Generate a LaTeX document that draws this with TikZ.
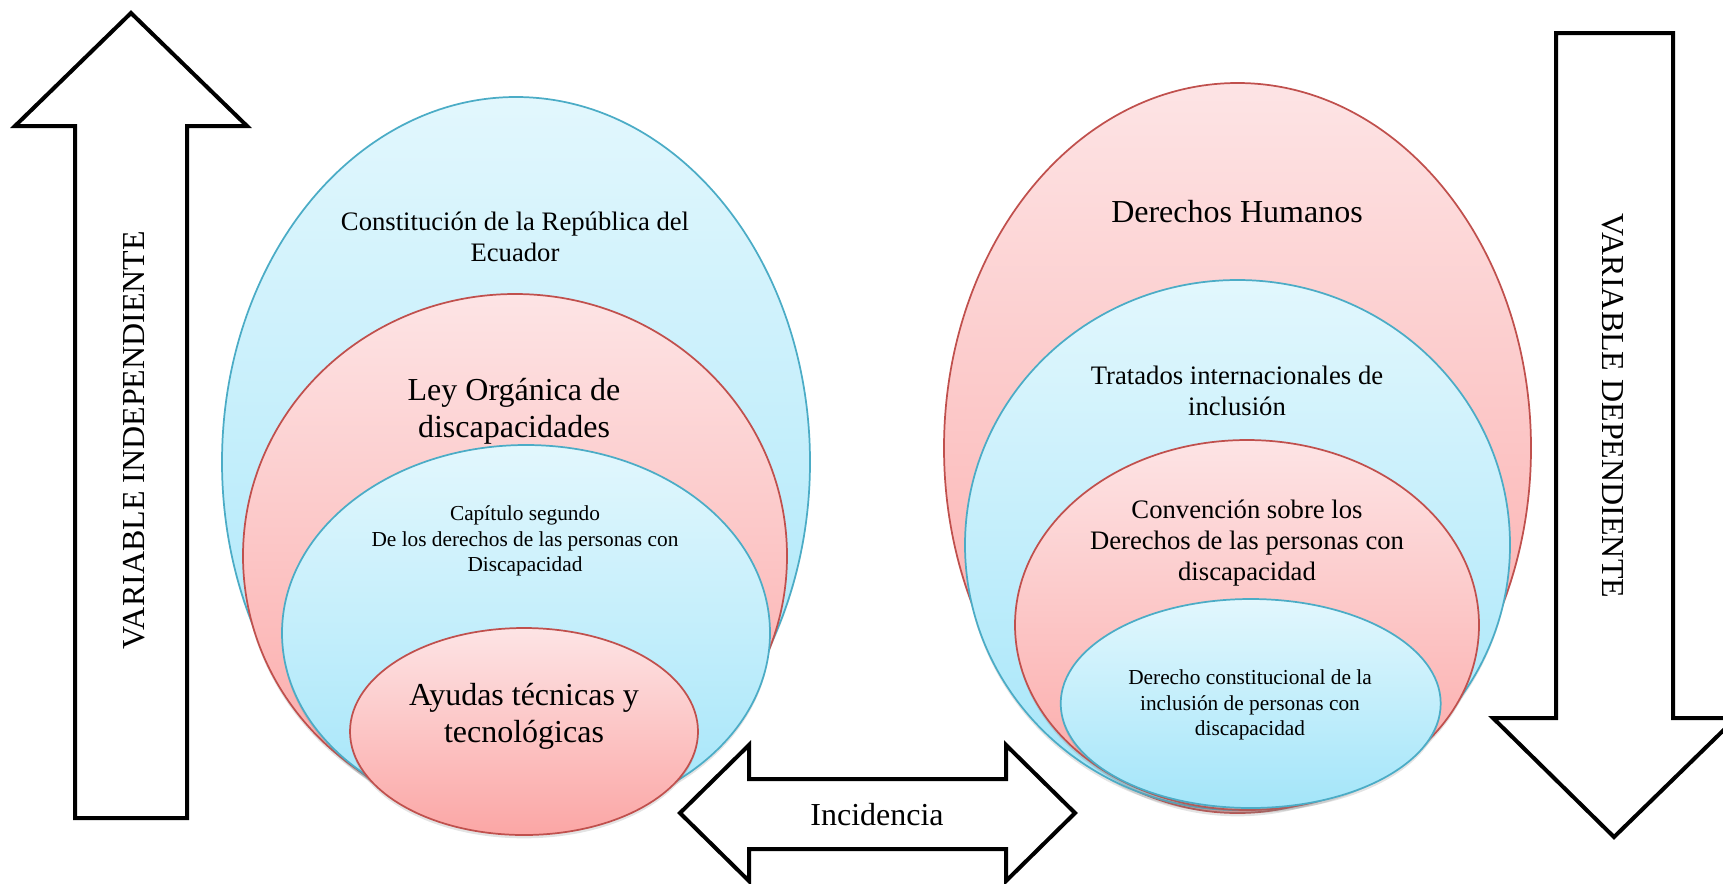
\documentclass[tikz,border=0pt]{standalone}
\usepackage{fontspec}
\setmainfont{Liberation Serif}
\usetikzlibrary{shadows}

\begin{document}
\begin{tikzpicture}[x=0.75pt,y=-0.75pt,
	bluebg/.style={draw=ovalblue, line width=1.3pt, top color=bluetop, bottom color=bluebot,
		drop shadow={opacity=0.22, shadow xshift=0pt, shadow yshift=-2.5pt}},
	pinkbg/.style={draw=ovalred, line width=1.3pt, top color=pinktop, bottom color=pinkbot,
		drop shadow={opacity=0.22, shadow xshift=0pt, shadow yshift=-2.5pt}},
	blockarrow/.style={draw=black, fill=white, line width=3pt, line join=miter},
	txtbig/.style={font=\fontsize{24}{28}\selectfont, align=center},
	txtmid/.style={font=\fontsize{20}{23.5}\selectfont, align=center},
	txtsmall/.style={font=\fontsize{16}{19}\selectfont, align=center}]
	\useasboundingbox (0,0) rectangle (1723,883);

	\definecolor{ovalblue}{RGB}{75,172,198}
	\definecolor{bluetop}{RGB}{226,247,253}
	\definecolor{bluebot}{RGB}{163,229,249}
	\definecolor{ovalred}{RGB}{192,80,77}
	\definecolor{pinktop}{RGB}{253,228,229}
	\definecolor{pinkbot}{RGB}{251,166,165}

%links
	%Ellipsen
	\draw[bluebg] (516,462) ellipse [x radius=294, y radius=365];
	\draw[pinkbg] (515,556) ellipse [x radius=272, y radius=262];
	\draw[bluebg] (526,633) ellipse [x radius=244, y radius=188];
	\draw[pinkbg] (524,731.5) ellipse [x radius=174, y radius=103.5];

	%Texte
	\node[txtmid] (constitucion) at (515,237) {Constitución de la República del\\Ecuador};
	\node[txtbig] (ley) at (514,411) {Ley Orgánica de\\discapacidades};
	\node[txtsmall] (capitulo) at (525,541) {Capítulo segundo\\De los derechos de las personas con\\Discapacidad};
	\node[txtbig] (ayudas) at (524,716) {Ayudas técnicas y\\tecnológicas};

%rechts
	%Ellipsen
	\draw[pinkbg] (1237.5,448) ellipse [x radius=293.5, y radius=365];
	\draw[bluebg] (1237.5,545) ellipse [x radius=272.5, y radius=265];
	\draw[pinkbg] (1247,625) ellipse [x radius=232, y radius=185];
	\draw[bluebg] (1250.7,703.5) ellipse [x radius=190, y radius=104.5];

	%Texte
	\node[txtbig] (ddhh) at (1237,212) {Derechos Humanos};
	\node[txtmid] (tratados) at (1237,391) {Tratados internacionales de\\inclusión};
	\node[txtmid] (convencion) at (1247,543) {Convención sobre los\\Derechos de las personas con\\discapacidad};
	\node[txtsmall] (derecho) at (1250,705) {Derecho constitucional de la\\inclusión de personas con\\discapacidad};

%Pfeile
	\draw[blockarrow] (131,13)--(247,126)--(187,126)--(187,818)--(75,818)--(75,126)--(15,126)--cycle;
	\node[txtbig, rotate=90] (indep) at (134,440) {VARIABLE INDEPENDIENTE};

	\draw[blockarrow] (1556,33)--(1673,33)--(1673,718)--(1736,718)--(1614,837)--(1493,718)--(1556,718)--cycle;
	\node[txtbig, rotate=-90] (dep) at (1613,406) {VARIABLE DEPENDIENTE};

	\draw[blockarrow] (680,813)--(749,745)--(749,779)--(1006,779)--(1006,745)--(1075,813)--(1006,881)--(1006,849)--(749,849)--(749,881)--cycle;
	\node[txtbig] (incidencia) at (877,815) {Incidencia};
\end{tikzpicture}
\end{document}
